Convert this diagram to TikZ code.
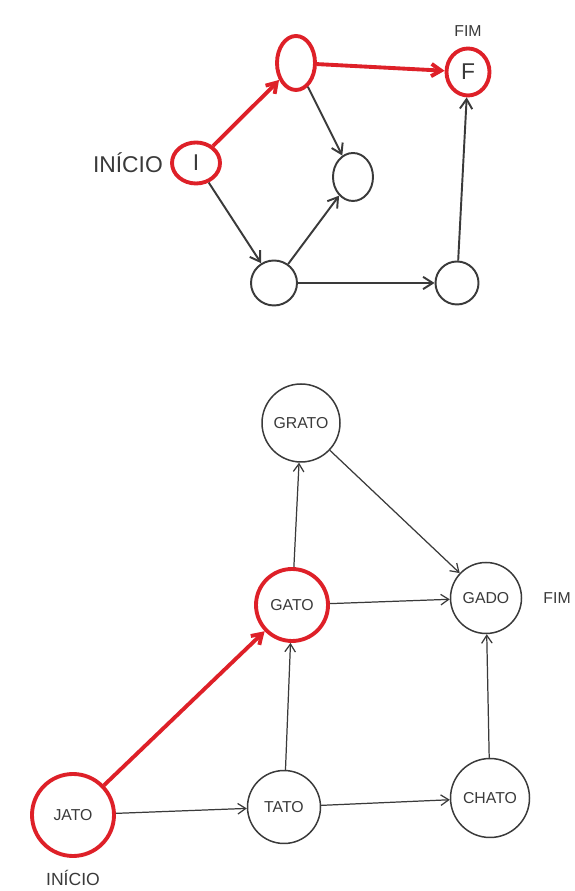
\documentclass[tikz,border=0pt]{standalone}
\usepackage{fontspec}
\setmainfont{Liberation Sans}
\usetikzlibrary{arrows.meta,positioning,shapes.geometric}
\definecolor{pathred}{RGB}{222,32,40}
\definecolor{pencil}{RGB}{58,58,58}

\begin{document}
\begin{tikzpicture}[
  every node/.style={text=pencil, text centered},
  vertex/.style={ellipse, draw=pencil, line width=1.1pt, inner sep=0pt, font=\fontsize{13}{15}\selectfont},
  red_vertex/.style={vertex, draw=pathred, line width=2.2pt},
  word/.style={circle, draw=pencil, line width=0.85pt, inner sep=0pt, font=\fontsize{9}{10}\selectfont},
  red_word/.style={word, draw=pathred, line width=2.2pt},
  label_style/.style={font=\fontsize{9}{10}\selectfont},
  arrow/.style={-{Straight Barb[length=5.5pt,width=7pt]}, line width=1.1pt, pencil},
  red_arrow/.style={arrow, pathred, line width=2.2pt},
  thin_arrow/.style={-{Straight Barb[length=4.5pt,width=6pt]}, line width=0.7pt, pencil}
]

\fill[white] (0,0) rectangle (11.5,17.82);
\useasboundingbox (0,0) rectangle (11.5,17.82);

% Top graph
\node[red_vertex, minimum width=0.96cm, minimum height=0.82cm] (I) at (3.92,14.56) {I};
\node[red_vertex, minimum width=0.76cm, minimum height=1.08cm] (A) at (5.92,16.56) {};
\node[red_vertex, minimum width=0.86cm, minimum height=0.94cm] (F) at (9.36,16.38) {F};
\node[vertex, minimum width=0.8cm, minimum height=0.96cm] (B) at (7.06,14.28) {};
\node[vertex, minimum width=0.92cm, minimum height=0.9cm] (C) at (5.48,12.16) {};
\node[vertex, minimum width=0.86cm, minimum height=0.86cm] (D) at (9.14,12.16) {};

\node[font=\fontsize{13}{15}\selectfont, left=0.02cm of I] (start_top) {INÍCIO};
\node[label_style, above=0.08cm of F] (end_top) {FIM};

\draw[red_arrow] (I) -- (A);
\draw[red_arrow] (A) -- (F);
\draw[arrow] (A) -- (B);
\draw[arrow] (I) -- (C);
\draw[arrow] (C) -- (B);
\draw[arrow] (C) -- (D);
\draw[arrow] (D) -- (F);

% Bottom graph
\node[word, minimum size=1.56cm] (grato) at (6.02,9.36) {GRATO};
\node[red_word, minimum size=1.44cm] (gato) at (5.84,5.72) {GATO};
\node[word, minimum size=1.42cm] (gado) at (9.72,5.86) {GADO};
\node[red_word, minimum size=1.64cm] (jato) at (1.46,1.52) {JATO};
\node[word, minimum size=1.46cm] (tato) at (5.68,1.68) {TATO};
\node[word, minimum size=1.58cm] (chato) at (9.8,1.86) {CHATO};

\node[label_style, right=0.3cm of gado] (end_bottom) {FIM};
\node[label_style, font=\fontsize{10}{12}\selectfont, below=0.12cm of jato] (start_bottom) {INÍCIO};

\draw[red_arrow] (jato) -- (gato);
\draw[thin_arrow] (jato) -- (tato);
\draw[thin_arrow] (tato) -- (gato);
\draw[thin_arrow] (tato) -- (chato);
\draw[thin_arrow] (gato) -- (grato);
\draw[thin_arrow] (gato) -- (gado);
\draw[thin_arrow] (grato) -- (gado);
\draw[thin_arrow] (chato) -- (gado);

\end{tikzpicture}
\end{document}
